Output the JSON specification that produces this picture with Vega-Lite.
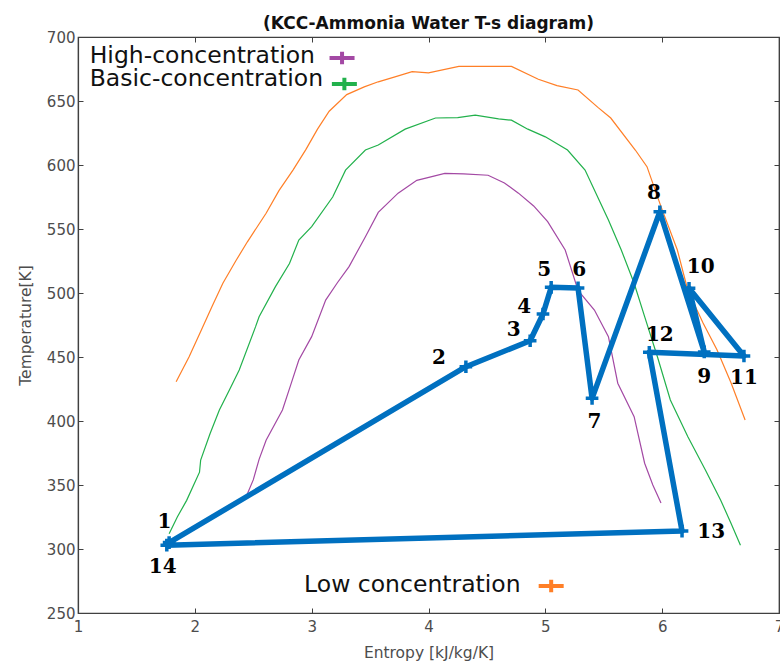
{
  "$schema": "https://vega.github.io/schema/vega-lite/v6.json",
  "width": 701,
  "height": 576,
  "autosize": {"type": "none"},
  "padding": {"left": 78, "top": 37, "right": 1, "bottom": 53},
  "background": "white",
  "title": {"text": "(KCC-Ammonia Water T-s diagram)", "font": "DejaVu Sans", "fontSize": 17, "fontWeight": "bold", "color": "#111111", "baseline": "alphabetic", "offset": 9, "dy": 25},
  "config": {
    "view": {"stroke": "#404040", "strokeWidth": 1.2},
    "axis": {"grid": false, "domainColor": "#404040", "domainWidth": 1.2, "tickColor": "#404040", "tickSize": -5, "labelColor": "#4d4d4d", "labelFont": "DejaVu Sans", "labelFontSize": 15, "titleFont": "DejaVu Sans", "titleFontSize": 15.5, "titleFontWeight": "normal", "titleColor": "#4d4d4d", "labelFlush": false, "labelOverlap": false}
  },
  "datasets": {
    "curves": [
      {"s": "low", "x": 1.84, "y": 430.7}, {"s": "low", "x": 1.95, "y": 450}, {"s": "low", "x": 2.05, "y": 470}, {"s": "low", "x": 2.15, "y": 490}, {"s": "low", "x": 2.24, "y": 507.6}, {"s": "low", "x": 2.35, "y": 525}, {"s": "low", "x": 2.45, "y": 540}, {"s": "low", "x": 2.61, "y": 562.3}, {"s": "low", "x": 2.72, "y": 580}, {"s": "low", "x": 2.84, "y": 596}, {"s": "low", "x": 2.95, "y": 612}, {"s": "low", "x": 3.05, "y": 628}, {"s": "low", "x": 3.15, "y": 642}, {"s": "low", "x": 3.3, "y": 655}, {"s": "low", "x": 3.45, "y": 661}, {"s": "low", "x": 3.57, "y": 665}, {"s": "low", "x": 3.72, "y": 669}, {"s": "low", "x": 3.86, "y": 673}, {"s": "low", "x": 4.0, "y": 672}, {"s": "low", "x": 4.26, "y": 677}, {"s": "low", "x": 4.5, "y": 677}, {"s": "low", "x": 4.71, "y": 677}, {"s": "low", "x": 4.94, "y": 667}, {"s": "low", "x": 5.1, "y": 662}, {"s": "low", "x": 5.28, "y": 658.6}, {"s": "low", "x": 5.45, "y": 645}, {"s": "low", "x": 5.56, "y": 636.7}, {"s": "low", "x": 5.77, "y": 611.7}, {"s": "low", "x": 5.87, "y": 598.7}, {"s": "low", "x": 5.99, "y": 567.5}, {"s": "low", "x": 6.13, "y": 533.6}, {"s": "low", "x": 6.22, "y": 502}, {"s": "low", "x": 6.35, "y": 476.6}, {"s": "low", "x": 6.47, "y": 455.5}, {"s": "low", "x": 6.59, "y": 429.7}, {"s": "low", "x": 6.71, "y": 400.8},
      {"s": "basic", "x": 1.78, "y": 312}, {"s": "basic", "x": 1.85, "y": 325}, {"s": "basic", "x": 1.93, "y": 338}, {"s": "basic", "x": 2.04, "y": 360}, {"s": "basic", "x": 2.05, "y": 369.5}, {"s": "basic", "x": 2.13, "y": 390}, {"s": "basic", "x": 2.21, "y": 408.6}, {"s": "basic", "x": 2.3, "y": 425}, {"s": "basic", "x": 2.38, "y": 439.8}, {"s": "basic", "x": 2.52, "y": 473.7}, {"s": "basic", "x": 2.55, "y": 481.5}, {"s": "basic", "x": 2.69, "y": 505}, {"s": "basic", "x": 2.81, "y": 523}, {"s": "basic", "x": 2.89, "y": 541.4}, {"s": "basic", "x": 3.0, "y": 551.8}, {"s": "basic", "x": 3.18, "y": 575}, {"s": "basic", "x": 3.29, "y": 596}, {"s": "basic", "x": 3.46, "y": 611.7}, {"s": "basic", "x": 3.57, "y": 615.6}, {"s": "basic", "x": 3.8, "y": 628}, {"s": "basic", "x": 4.06, "y": 636.7}, {"s": "basic", "x": 4.25, "y": 637}, {"s": "basic", "x": 4.4, "y": 639}, {"s": "basic", "x": 4.6, "y": 636}, {"s": "basic", "x": 4.71, "y": 635}, {"s": "basic", "x": 4.85, "y": 628}, {"s": "basic", "x": 5.0, "y": 622}, {"s": "basic", "x": 5.19, "y": 611.7}, {"s": "basic", "x": 5.34, "y": 596}, {"s": "basic", "x": 5.54, "y": 557}, {"s": "basic", "x": 5.65, "y": 533.6}, {"s": "basic", "x": 5.76, "y": 507.6}, {"s": "basic", "x": 5.85, "y": 481.5}, {"s": "basic", "x": 5.96, "y": 450}, {"s": "basic", "x": 6.07, "y": 416.4}, {"s": "basic", "x": 6.22, "y": 387.7}, {"s": "basic", "x": 6.37, "y": 361.7}, {"s": "basic", "x": 6.5, "y": 338.3}, {"s": "basic", "x": 6.59, "y": 320}, {"s": "basic", "x": 6.67, "y": 303},
      {"s": "high", "x": 2.44, "y": 341}, {"s": "high", "x": 2.5, "y": 354}, {"s": "high", "x": 2.55, "y": 370}, {"s": "high", "x": 2.61, "y": 385}, {"s": "high", "x": 2.75, "y": 408.6}, {"s": "high", "x": 2.82, "y": 428}, {"s": "high", "x": 2.89, "y": 447.6}, {"s": "high", "x": 3.0, "y": 465.9}, {"s": "high", "x": 3.12, "y": 494.5}, {"s": "high", "x": 3.22, "y": 508}, {"s": "high", "x": 3.32, "y": 520.6}, {"s": "high", "x": 3.46, "y": 544}, {"s": "high", "x": 3.57, "y": 563}, {"s": "high", "x": 3.74, "y": 578}, {"s": "high", "x": 3.9, "y": 588}, {"s": "high", "x": 4.14, "y": 593.5}, {"s": "high", "x": 4.3, "y": 593}, {"s": "high", "x": 4.51, "y": 592}, {"s": "high", "x": 4.65, "y": 586}, {"s": "high", "x": 4.77, "y": 578}, {"s": "high", "x": 4.9, "y": 568}, {"s": "high", "x": 5.02, "y": 555.7}, {"s": "high", "x": 5.17, "y": 533.6}, {"s": "high", "x": 5.28, "y": 502}, {"s": "high", "x": 5.42, "y": 486.7}, {"s": "high", "x": 5.54, "y": 465.9}, {"s": "high", "x": 5.62, "y": 429.5}, {"s": "high", "x": 5.76, "y": 403.4}, {"s": "high", "x": 5.85, "y": 367}, {"s": "high", "x": 5.92, "y": 350}, {"s": "high", "x": 5.99, "y": 336}
    ],
    "cycle": [
      {"pt": 1, "x": 1.78, "y": 305}, {"pt": 2, "x": 4.32, "y": 442.4}, {"pt": 3, "x": 4.87, "y": 462.7}, {"pt": 4, "x": 4.98, "y": 483.6}, {"pt": 5, "x": 5.05, "y": 504.4}, {"pt": 6, "x": 5.28, "y": 504}, {"pt": 7, "x": 5.4, "y": 417.7}, {"pt": 8, "x": 5.98, "y": 563.5}, {"pt": 9, "x": 6.36, "y": 454}, {"pt": 10, "x": 6.23, "y": 503.7}, {"pt": 11, "x": 6.7, "y": 450.8}, {"pt": 12, "x": 5.89, "y": 453.7}, {"pt": 13, "x": 6.17, "y": 314}, {"pt": 14, "x": 1.76, "y": 303}
    ],
    "ptlabels": [
      {"t": "1", "x": 1.74, "y": 321}, {"t": "2", "x": 4.09, "y": 449}, {"t": "3", "x": 4.73, "y": 471}, {"t": "4", "x": 4.82, "y": 489}, {"t": "5", "x": 4.99, "y": 518}, {"t": "6", "x": 5.29, "y": 518}, {"t": "7", "x": 5.42, "y": 399.5}, {"t": "8", "x": 5.93, "y": 578.4}, {"t": "9", "x": 6.36, "y": 434.6}, {"t": "10", "x": 6.33, "y": 520.6}, {"t": "11", "x": 6.7, "y": 433.4}, {"t": "12", "x": 5.98, "y": 467.2}, {"t": "13", "x": 6.42, "y": 313.5}, {"t": "14", "x": 1.725, "y": 286.2}
    ],
    "legtext": [
      {"t": "High-concentration", "x": 1.1, "y": 679.7}, {"t": "Basic-concentration", "x": 1.1, "y": 661.7}, {"t": "Low concentration", "x": 2.935, "y": 266.4}
    ],
    "pluses": [
      {"s": "high", "x": 3.26, "y": 683.6}, {"s": "basic", "x": 3.28, "y": 663.3}, {"s": "low", "x": 5.05, "y": 271}
    ]
  },
  "resolve": {"axis": {"x": "independent", "y": "independent"}},
  "layer": [
    {
      "data": {"name": "curves"},
      "mark": {"type": "line", "strokeWidth": 1.2},
      "encoding": {
        "x": {"field": "x", "type": "quantitative", "scale": {"domain": [1, 7], "nice": false, "zero": false}, "axis": {"values": [1, 2, 3, 4, 5, 6, 7], "title": "Entropy [kJ/kg/K]", "labelPadding": 11, "titlePadding": 11}},
        "y": {"field": "y", "type": "quantitative", "scale": {"domain": [250, 700], "nice": false, "zero": false}, "axis": {"values": [250, 300, 350, 400, 450, 500, 550, 600, 650, 700], "title": "Temperature[K]", "labelPadding": 8, "titlePadding": 13}},
        "color": {"field": "s", "type": "nominal", "scale": {"domain": ["low", "basic", "high"], "range": ["#FF7F27", "#22B14C", "#A349A4"]}, "legend": null}
      }
    },
    {
      "data": {"name": "cycle"},
      "mark": {"type": "line", "strokeWidth": 5.5, "color": "#0070C0", "strokeJoin": "round"},
      "encoding": {
        "x": {"field": "x", "type": "quantitative", "scale": {"domain": [1, 7], "nice": false, "zero": false}, "axis": {"orient": "top", "values": [1, 2, 3, 4, 5, 6, 7], "labels": false, "title": null}},
        "y": {"field": "y", "type": "quantitative", "scale": {"domain": [250, 700], "nice": false, "zero": false}, "axis": {"orient": "right", "values": [250, 300, 350, 400, 450, 500, 550, 600, 650, 700], "labels": false, "title": null}},
        "order": {"field": "pt", "type": "quantitative"}
      }
    },
    {
      "data": {"name": "cycle"},
      "mark": {"type": "point", "shape": "M-1,0H1M0,-1V1", "filled": false, "stroke": "#0070C0", "strokeWidth": 3.5, "size": 160, "opacity": 1},
      "encoding": {
        "x": {"field": "x", "type": "quantitative", "scale": {"domain": [1, 7], "nice": false, "zero": false}, "axis": null},
        "y": {"field": "y", "type": "quantitative", "scale": {"domain": [250, 700], "nice": false, "zero": false}, "axis": null}
      }
    },
    {
      "data": {"name": "ptlabels"},
      "mark": {"type": "text", "font": "DejaVu Serif", "fontWeight": "bold", "fontSize": 20, "color": "#000000", "align": "center", "baseline": "middle"},
      "encoding": {
        "x": {"field": "x", "type": "quantitative", "scale": {"domain": [1, 7], "nice": false, "zero": false}, "axis": null},
        "y": {"field": "y", "type": "quantitative", "scale": {"domain": [250, 700], "nice": false, "zero": false}, "axis": null},
        "text": {"field": "t"}
      }
    },
    {
      "data": {"name": "legtext"},
      "mark": {"type": "text", "font": "DejaVu Sans", "fontSize": 23.5, "color": "#111111", "align": "left", "baseline": "alphabetic"},
      "encoding": {
        "x": {"field": "x", "type": "quantitative", "scale": {"domain": [1, 7], "nice": false, "zero": false}, "axis": null},
        "y": {"field": "y", "type": "quantitative", "scale": {"domain": [250, 700], "nice": false, "zero": false}, "axis": null},
        "text": {"field": "t"}
      }
    },
    {
      "data": {"name": "pluses"},
      "mark": {"type": "point", "shape": "M-1,0H1M0,-0.5V0.5", "filled": false, "strokeWidth": 4, "size": 625, "opacity": 1},
      "encoding": {
        "x": {"field": "x", "type": "quantitative", "scale": {"domain": [1, 7], "nice": false, "zero": false}, "axis": null},
        "y": {"field": "y", "type": "quantitative", "scale": {"domain": [250, 700], "nice": false, "zero": false}, "axis": null},
        "color": {"field": "s", "type": "nominal", "scale": {"domain": ["low", "basic", "high"], "range": ["#FF7F27", "#22B14C", "#A349A4"]}, "legend": null}
      }
    }
  ]
}
